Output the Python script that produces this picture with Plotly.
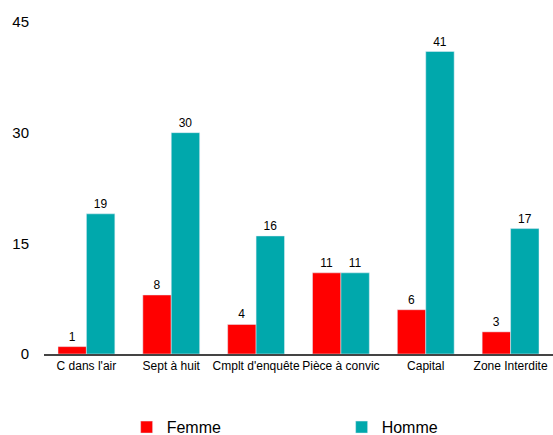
import plotly.graph_objects as go

categories = ["C dans l'air", "Sept à huit", "Cmplt d'enquête", "Pièce à convic", "Capital", "Zone Interdite"]
femme = [1, 8, 4, 11, 6, 3]
homme = [19, 30, 16, 11, 41, 17]
y_ticks = [0, 15, 30, 45]

fig = go.Figure()
fig.add_trace(go.Bar(name="Femme", x=categories, y=femme, marker_color="#ff0000",
                     text=femme, textposition="outside", cliponaxis=False,
                     textfont=dict(size=12, color="#000")))
fig.add_trace(go.Bar(name="Homme", x=categories, y=homme, marker_color="#00a8ac",
                     text=homme, textposition="outside", cliponaxis=False,
                     textfont=dict(size=12, color="#000")))

fig.update_layout(
    width=553, height=435,
    margin=dict(l=44, r=0, t=22, b=81, autoexpand=False),
    paper_bgcolor="white", plot_bgcolor="white",
    barmode="group", bargap=0.33, bargroupgap=0,
    font=dict(family="Liberation Sans, Arial, sans-serif", color="#000"),
    showlegend=True,
    legend=dict(orientation="h", xref="container", yref="container",
                x=0.229, xanchor="left", y=0.018, yanchor="middle",
                font=dict(size=16), entrywidth=170, entrywidthmode="pixels"),
    uniformtext=dict(minsize=12, mode="show"),
)
fig.update_xaxes(showline=True, linecolor="#444", linewidth=2, ticks="",
                 tickfont=dict(size=12), showgrid=False)
fig.update_yaxes(range=[0, 45], tickvals=y_ticks, showgrid=False, zeroline=False,
                 showline=False, tickfont=dict(size=15), ticklabelstandoff=14)

fig.write_html("out.html")
